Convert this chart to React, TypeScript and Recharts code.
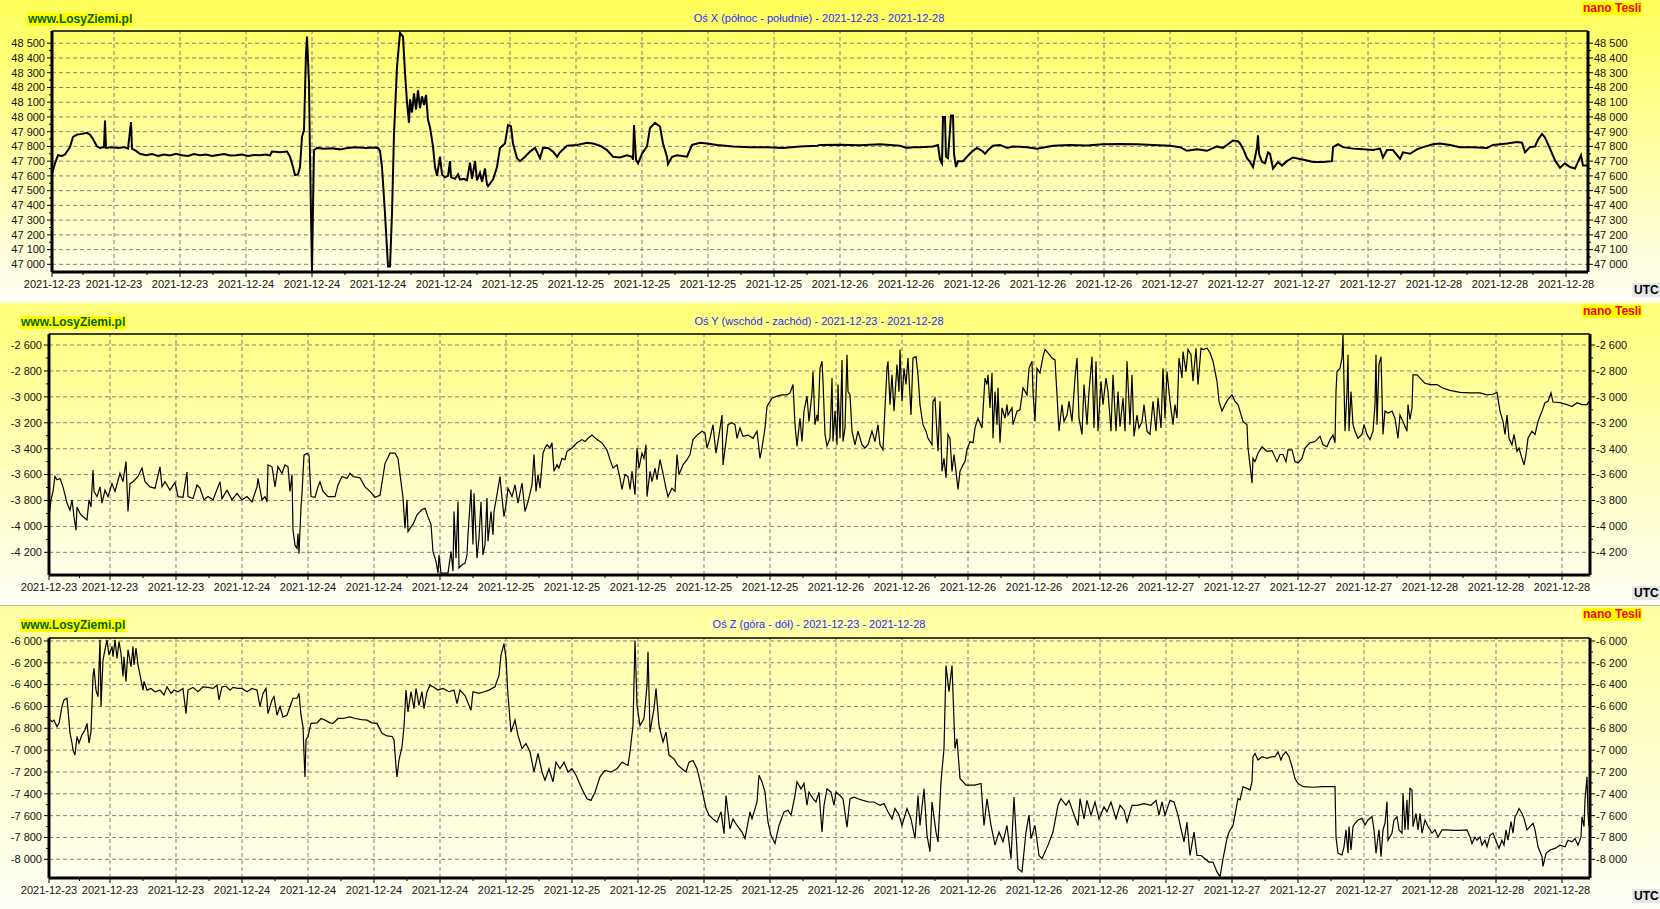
import { FC } from "react";
import { LineChart, Line, XAxis, YAxis, ReferenceLine } from "recharts";

// date labels under the gridlines (first one sits on the left edge)
const dateLabels = [
  "2021-12-23", "2021-12-23", "2021-12-23",
  "2021-12-24", "2021-12-24", "2021-12-24", "2021-12-24",
  "2021-12-25", "2021-12-25", "2021-12-25", "2021-12-25", "2021-12-25",
  "2021-12-26", "2021-12-26", "2021-12-26", "2021-12-26", "2021-12-26",
  "2021-12-27", "2021-12-27", "2021-12-27", "2021-12-27",
  "2021-12-28", "2021-12-28", "2021-12-28",
];

const xAxisTicks = [47000, 47100, 47200, 47300, 47400, 47500, 47600, 47700, 47800, 47900, 48000, 48100, 48200, 48300, 48400, 48500];
const yAxisTicks = [-4200, -4000, -3800, -3600, -3400, -3200, -3000, -2800, -2600];
const zAxisTicks = [-8000, -7800, -7600, -7400, -7200, -7000, -6800, -6600, -6400, -6200, -6000];

// [time step, nT]
const northSouth: [number, number][] = [
  [0, 47615], [3, 47685], [6, 47740], [10, 47735], [13, 47745], [18, 47795], [21, 47865], [25, 47880], [30, 47885], [35, 47892],
  [38, 47880], [41, 47850], [45, 47800], [48, 47790], [52, 47795], [53, 47975], [54, 47790], [60, 47795], [66, 47790], [72, 47795],
  [76, 47785], [79, 47965], [80, 47785], [84, 47770], [88, 47750], [94, 47740], [100, 47748], [106, 47735], [112, 47745], [118, 47738],
  [124, 47750], [130, 47740], [136, 47735], [142, 47748], [148, 47740], [154, 47745], [160, 47735], [166, 47742], [172, 47748], [178, 47738],
  [184, 47740], [190, 47745], [196, 47735], [202, 47742], [208, 47740], [214, 47745], [218, 47738], [220, 47765], [228, 47760], [235, 47765],
  [238, 47730], [241, 47660], [243, 47605], [246, 47610], [248, 47660], [250, 47865], [252, 47910], [254, 48430], [255, 48545], [257, 48230],
  [258, 47730], [260, 46950], [261, 47390], [262, 47775], [265, 47790], [272, 47785], [280, 47788], [288, 47780], [296, 47790], [302, 47795],
  [308, 47792], [314, 47790], [320, 47792], [326, 47790], [328, 47770], [330, 47660], [333, 47345], [336, 46985], [338, 46985], [340, 47345],
  [342, 47885], [345, 48340], [348, 48570], [351, 48545], [353, 48300], [355, 48100], [357, 47960], [358, 48120], [360, 48030], [362, 48160],
  [364, 48050], [366, 48180], [368, 48060], [370, 48140], [372, 48080], [374, 48150], [376, 47980], [378, 47930], [381, 47800], [383, 47660],
  [385, 47600], [388, 47730], [390, 47610], [393, 47590], [396, 47600], [398, 47700], [399, 47590], [403, 47580], [406, 47610], [408, 47575],
  [412, 47580], [415, 47570], [418, 47690], [420, 47580], [423, 47700], [425, 47570], [428, 47620], [430, 47560], [433, 47650], [435, 47540],
  [436, 47530], [441, 47575], [445, 47660], [448, 47790], [453, 47820], [456, 47945], [459, 47935], [461, 47820], [465, 47720], [468, 47700],
  [473, 47730], [478, 47765], [483, 47790], [488, 47720], [491, 47790], [496, 47790], [501, 47765], [505, 47730], [508, 47760], [515, 47805],
  [525, 47810], [535, 47825], [541, 47820], [548, 47805], [555, 47775], [561, 47730], [568, 47725], [575, 47740], [580, 47730], [581, 47710],
  [582, 47945], [584, 47710], [586, 47685], [590, 47750], [595, 47800], [598, 47925], [603, 47960], [608, 47935], [611, 47820], [615, 47730],
  [616, 47680], [620, 47730], [625, 47740], [635, 47730], [640, 47810], [648, 47825], [655, 47820], [665, 47810], [681, 47800], [698, 47795],
  [715, 47795], [731, 47790], [748, 47800], [765, 47805], [768, 47810], [788, 47812], [808, 47808], [828, 47815], [848, 47805], [855, 47790],
  [861, 47795], [868, 47795], [881, 47800], [886, 47810], [888, 47710], [890, 47685], [891, 48000], [893, 48000], [894, 47730], [896, 47720],
  [899, 48010], [901, 48010], [902, 47750], [904, 47660], [906, 47700], [911, 47700], [915, 47730], [920, 47765], [925, 47790], [930, 47770],
  [933, 47750], [936, 47775], [941, 47805], [948, 47810], [955, 47790], [961, 47800], [975, 47795], [985, 47785], [1001, 47805], [1018, 47810],
  [1035, 47807], [1051, 47815], [1068, 47817], [1085, 47815], [1101, 47810], [1118, 47805], [1128, 47795], [1135, 47770], [1145, 47780], [1155, 47770],
  [1165, 47800], [1171, 47790], [1178, 47825], [1181, 47840], [1186, 47835], [1188, 47820], [1191, 47785], [1195, 47720], [1198, 47695], [1201, 47660],
  [1203, 47725], [1205, 47795], [1206, 47875], [1207, 47750], [1210, 47695], [1213, 47685], [1216, 47760], [1218, 47750], [1221, 47650], [1226, 47695],
  [1230, 47670], [1235, 47700], [1241, 47725], [1248, 47715], [1255, 47705], [1261, 47695], [1271, 47695], [1280, 47700], [1281, 47795], [1286, 47815],
  [1291, 47795], [1301, 47785], [1311, 47780], [1321, 47775], [1328, 47785], [1331, 47725], [1335, 47775], [1341, 47775], [1348, 47715], [1351, 47760],
  [1358, 47750], [1365, 47780], [1371, 47795], [1381, 47815], [1388, 47820], [1398, 47810], [1408, 47795], [1421, 47795], [1435, 47790], [1441, 47810],
  [1455, 47820], [1465, 47830], [1470, 47825], [1473, 47760], [1478, 47795], [1483, 47800], [1486, 47845], [1490, 47885], [1493, 47860], [1498, 47785],
  [1503, 47705], [1508, 47655], [1513, 47685], [1518, 47660], [1523, 47650], [1526, 47695], [1529, 47740], [1531, 47670], [1535, 47670],
];

const eastWest: [number, number][] = [
  [0, -3925], [2, -3795], [4, -3730], [6, -3615], [8, -3640], [11, -3630], [14, -3695], [18, -3820], [21, -3875], [23, -3795],
  [25, -3925], [27, -4030], [28, -3850], [31, -3900], [34, -3925], [38, -3950], [40, -3795], [42, -3850], [44, -3565], [45, -3730],
  [48, -3770], [51, -3695], [53, -3820], [56, -3720], [59, -3770], [63, -3670], [66, -3730], [71, -3590], [74, -3655], [77, -3500],
  [79, -3885], [81, -3670], [84, -3655], [89, -3615], [93, -3550], [96, -3655], [101, -3695], [106, -3705], [111, -3540], [113, -3695],
  [116, -3655], [121, -3720], [126, -3660], [129, -3770], [134, -3775], [138, -3580], [139, -3770], [144, -3785], [148, -3680], [151, -3705],
  [155, -3795], [159, -3770], [164, -3795], [171, -3655], [173, -3785], [178, -3720], [183, -3795], [188, -3745], [193, -3795], [198, -3770],
  [203, -3810], [208, -3695], [209, -3630], [213, -3795], [216, -3770], [218, -3810], [219, -3525], [223, -3540], [226, -3695], [229, -3540],
  [233, -3590], [236, -3525], [239, -3540], [241, -3730], [243, -3600], [244, -4030], [246, -4145], [248, -4170], [249, -4055], [250, -4210],
  [252, -3850], [253, -3745], [255, -3450], [258, -3435], [260, -3450], [262, -3770], [266, -3775], [269, -3695], [271, -3655], [274, -3730],
  [279, -3770], [286, -3770], [289, -3680], [293, -3615], [298, -3630], [301, -3590], [304, -3615], [311, -3625], [316, -3695], [321, -3730],
  [326, -3775], [331, -3760], [336, -3515], [341, -3435], [346, -3435], [349, -3475], [354, -3780], [356, -4015], [358, -3795], [359, -4040],
  [361, -4015], [364, -3985], [368, -3910], [373, -3870], [376, -3860], [379, -3925], [382, -3985], [384, -4195], [387, -4270], [389, -4360],
  [390, -4220], [392, -4360], [396, -4360], [399, -4360], [402, -4195], [404, -4345], [405, -3885], [407, -4245], [409, -3810], [410, -4320],
  [413, -4295], [416, -4285], [418, -4220], [419, -4065], [422, -3715], [424, -4140], [425, -3745], [428, -4245], [430, -4090], [432, -3810],
  [434, -4220], [436, -4140], [438, -3780], [439, -4115], [442, -3885], [444, -4065], [445, -3885], [448, -3755], [451, -3615], [453, -3780],
  [455, -3925], [457, -3835], [459, -3705], [463, -3770], [466, -3680], [469, -3820], [473, -3665], [476, -3885], [479, -3810], [483, -3680],
  [485, -3445], [487, -3730], [489, -3600], [491, -3705], [494, -3435], [496, -3395], [498, -3370], [501, -3395], [503, -3355], [505, -3575],
  [508, -3525], [510, -3550], [513, -3475], [516, -3485], [518, -3420], [523, -3395], [528, -3355], [533, -3330], [536, -3345], [539, -3320],
  [543, -3295], [548, -3330], [553, -3355], [558, -3410], [561, -3485], [564, -3550], [568, -3525], [571, -3630], [573, -3715], [576, -3600],
  [579, -3615], [581, -3715], [583, -3575], [586, -3755], [588, -3395], [590, -3550], [593, -3435], [595, -3475], [597, -3370], [598, -3770],
  [601, -3575], [603, -3655], [606, -3550], [608, -3640], [611, -3485], [614, -3590], [617, -3705], [619, -3770], [623, -3705], [626, -3730],
  [628, -3445], [630, -3600], [634, -3525], [638, -3485], [641, -3445], [644, -3330], [648, -3295], [653, -3265], [656, -3280], [658, -3395],
  [661, -3320], [664, -3215], [667, -3435], [670, -3295], [673, -3140], [674, -3525], [677, -3345], [679, -3215], [683, -3200], [686, -3215],
  [688, -3320], [691, -3240], [694, -3305], [699, -3295], [704, -3320], [708, -3265], [711, -3475], [713, -3395], [716, -3240], [718, -3075],
  [723, -3010], [728, -2995], [733, -2985], [738, -2985], [741, -2970], [744, -2905], [746, -3215], [748, -3380], [751, -3165], [753, -3345],
  [755, -3110], [758, -2995], [760, -3190], [763, -2970], [764, -2805], [766, -3215], [768, -3140], [769, -3190], [771, -2780], [773, -2725],
  [774, -2880], [776, -3290], [778, -3380], [781, -3320], [783, -2855], [784, -3345], [786, -3110], [788, -3370], [789, -2905], [791, -3320],
  [793, -2715], [794, -3345], [796, -3240], [798, -2675], [799, -2960], [801, -2985], [803, -3265], [806, -3370], [809, -3265], [813, -3370],
  [816, -3395], [819, -3370], [823, -3265], [826, -3345], [829, -3215], [831, -3370], [834, -3410], [836, -3085], [838, -2780], [839, -2725],
  [841, -3060], [843, -2830], [845, -3110], [848, -2750], [850, -2960], [851, -2635], [853, -3035], [855, -2780], [857, -2905], [859, -2700],
  [862, -3140], [864, -2700], [867, -2690], [869, -2830], [871, -3060], [873, -3165], [874, -3215], [877, -3265], [879, -3320], [883, -3370],
  [884, -3035], [886, -3010], [888, -3290], [889, -3420], [891, -3035], [893, -3575], [895, -3475], [897, -3625], [899, -3290], [901, -3320],
  [903, -3575], [905, -3445], [907, -3575], [909, -3715], [911, -3575], [914, -3525], [916, -3500], [918, -3410], [921, -3345], [924, -3355],
  [926, -3240], [929, -3165], [933, -3240], [934, -3110], [936, -2855], [938, -2905], [939, -2830], [941, -3085], [943, -2815], [944, -3320],
  [946, -2960], [948, -3215], [949, -2930], [951, -3355], [953, -3085], [956, -3165], [958, -3060], [959, -3140], [963, -3085], [964, -3215],
  [968, -3110], [971, -3100], [974, -2930], [978, -2985], [980, -2780], [983, -2725], [984, -2960], [986, -3190], [988, -2780], [991, -2815],
  [994, -2690], [996, -2635], [999, -2660], [1003, -2700], [1006, -2715], [1008, -2985], [1010, -3265], [1013, -3060], [1015, -3190], [1018, -3140],
  [1020, -3035], [1023, -3190], [1026, -2855], [1028, -2700], [1030, -3165], [1033, -3290], [1035, -2905], [1038, -3215], [1040, -2960], [1043, -2690],
  [1045, -3240], [1047, -2725], [1049, -3265], [1052, -2880], [1054, -3060], [1057, -2855], [1059, -2960], [1062, -3265], [1064, -2830], [1067, -3265],
  [1069, -2960], [1071, -3230], [1074, -3010], [1076, -3265], [1078, -2725], [1081, -3215], [1083, -2830], [1085, -3305], [1088, -3140], [1090, -3240],
  [1093, -3190], [1095, -3060], [1098, -3265], [1101, -3290], [1104, -3035], [1107, -3265], [1109, -3010], [1112, -3240], [1114, -2780], [1116, -3165],
  [1118, -2805], [1121, -3035], [1124, -3215], [1126, -3060], [1128, -3165], [1130, -2700], [1133, -2855], [1134, -2650], [1137, -2805], [1139, -2635],
  [1142, -2675], [1144, -2880], [1147, -2625], [1149, -2905], [1152, -2625], [1154, -2635], [1158, -2625], [1161, -2660], [1164, -2725], [1168, -2880],
  [1170, -3035], [1173, -3110], [1176, -3060], [1179, -3020], [1183, -2985], [1186, -3035], [1189, -3060], [1194, -3190], [1198, -3215], [1199, -3395],
  [1201, -3525], [1203, -3665], [1204, -3475], [1206, -3500], [1209, -3435], [1213, -3385], [1218, -3420], [1223, -3415], [1228, -3500], [1231, -3445],
  [1234, -3445], [1237, -3500], [1239, -3410], [1243, -3410], [1246, -3500], [1249, -3510], [1253, -3475], [1256, -3395], [1261, -3355], [1266, -3345],
  [1271, -3305], [1274, -3370], [1278, -3385], [1281, -3330], [1284, -3295], [1286, -3355], [1287, -2960], [1288, -2805], [1291, -2780], [1293, -2700],
  [1294, -2520], [1296, -3265], [1298, -2960], [1299, -2675], [1300, -3265], [1302, -2960], [1304, -3215], [1306, -3265], [1309, -3320], [1313, -3290],
  [1315, -3215], [1318, -3290], [1321, -3330], [1324, -3265], [1326, -3060], [1327, -2675], [1328, -3215], [1330, -2750], [1332, -2690], [1334, -3290],
  [1336, -3110], [1339, -3125], [1343, -3110], [1346, -3165], [1349, -3320], [1351, -3140], [1354, -3190], [1358, -3265], [1359, -3060], [1361, -3175],
  [1363, -3085], [1364, -2830], [1368, -2830], [1371, -2855], [1376, -2895], [1381, -2905], [1388, -2905], [1393, -2930], [1401, -2950], [1411, -2965],
  [1421, -2970], [1431, -2970], [1438, -2985], [1444, -2980], [1448, -2965], [1451, -3110], [1454, -3190], [1456, -3290], [1458, -3140], [1460, -3320],
  [1463, -3370], [1465, -3290], [1468, -3420], [1470, -3395], [1473, -3475], [1475, -3525], [1477, -3445], [1479, -3320], [1483, -3265], [1486, -3290],
  [1489, -3190], [1493, -3110], [1496, -3045], [1499, -3035], [1502, -2970], [1504, -3040], [1511, -3045], [1518, -3060], [1523, -3075], [1528, -3045],
  [1533, -3060], [1538, -3060], [1540, -3035],
];

const upDown: [number, number][] = [
  [0, -6710], [3, -6740], [5, -6725], [8, -6785], [10, -6755], [13, -6600], [15, -6540], [18, -6525], [19, -6630], [21, -6845],
  [23, -6935], [24, -7000], [26, -7045], [28, -6875], [30, -6935], [33, -6860], [36, -6815], [38, -6755], [40, -6935], [42, -6830],
  [44, -6325], [45, -6250], [47, -6450], [49, -6510], [51, -5990], [52, -6600], [54, -6175], [56, -6080], [58, -5990], [60, -6130],
  [63, -6050], [64, -6145], [66, -5990], [68, -6160], [70, -6005], [72, -6115], [74, -6325], [75, -6145], [77, -6370], [79, -6080],
  [82, -6235], [84, -6050], [85, -6220], [87, -6065], [89, -6220], [91, -6310], [94, -6450], [95, -6370], [98, -6450], [102, -6435],
  [106, -6465], [111, -6450], [115, -6495], [118, -6420], [122, -6480], [125, -6450], [129, -6465], [134, -6435], [137, -6665], [139, -6450],
  [144, -6425], [149, -6465], [154, -6420], [159, -6425], [164, -6435], [168, -6405], [170, -6540], [173, -6420], [177, -6415], [181, -6450],
  [184, -6425], [189, -6435], [193, -6435], [198, -6465], [203, -6435], [208, -6450], [211, -6600], [214, -6480], [217, -6435], [219, -6665],
  [223, -6540], [225, -6510], [228, -6680], [231, -6600], [234, -6695], [238, -6680], [241, -6600], [244, -6525], [248, -6525], [250, -6480],
  [252, -6680], [254, -6785], [255, -7030], [256, -7245], [257, -6905], [259, -6875], [262, -6755], [268, -6750], [272, -6710], [276, -6725],
  [281, -6750], [284, -6755], [289, -6710], [294, -6710], [301, -6695], [306, -6710], [313, -6720], [318, -6725], [323, -6750], [328, -6755],
  [333, -6845], [338, -6870], [343, -6875], [345, -6905], [347, -7150], [348, -7245], [350, -7090], [353, -6970], [355, -6785], [357, -6450],
  [359, -6650], [362, -6465], [365, -6620], [367, -6435], [370, -6590], [373, -6465], [375, -6620], [378, -6465], [381, -6405], [384, -6420],
  [389, -6450], [394, -6435], [400, -6465], [405, -6450], [408, -6575], [411, -6450], [416, -6500], [422, -6635], [424, -6465], [430, -6480],
  [435, -6465], [440, -6450], [446, -6420], [450, -6315], [452, -6130], [455, -6025], [457, -6160], [459, -6500], [462, -6835], [466, -6725],
  [469, -6865], [473, -6985], [477, -6940], [481, -7015], [485, -7200], [489, -7030], [493, -7200], [496, -7275], [500, -7170], [504, -7290],
  [507, -7110], [511, -7170], [515, -7110], [519, -7200], [523, -7170], [527, -7230], [533, -7355], [538, -7445], [542, -7460], [546, -7385],
  [551, -7245], [556, -7185], [562, -7200], [568, -7170], [573, -7110], [579, -7140], [581, -7015], [584, -6775], [586, -5995], [588, -6590],
  [591, -6775], [595, -6710], [598, -6405], [599, -6100], [601, -6835], [605, -6620], [607, -6435], [610, -6775], [614, -6925], [617, -6835],
  [620, -7045], [625, -7080], [629, -7140], [633, -7170], [637, -7200], [640, -7110], [644, -7095], [648, -7170], [652, -7320], [657, -7535],
  [660, -7595], [664, -7630], [668, -7660], [672, -7565], [675, -7765], [677, -7415], [681, -7720], [684, -7630], [688, -7690], [693, -7750],
  [696, -7810], [701, -7565], [703, -7630], [708, -7475], [710, -7230], [713, -7290], [716, -7385], [719, -7660], [722, -7780], [726, -7855],
  [730, -7690], [735, -7565], [739, -7550], [742, -7595], [746, -7415], [748, -7290], [752, -7355], [755, -7305], [758, -7505], [760, -7385],
  [764, -7445], [767, -7475], [770, -7385], [773, -7750], [775, -7505], [778, -7355], [782, -7385], [785, -7505], [787, -7385], [791, -7415],
  [794, -7445], [798, -7705], [801, -7445], [805, -7430], [809, -7445], [814, -7460], [820, -7475], [825, -7475], [831, -7505], [835, -7490],
  [839, -7565], [843, -7630], [846, -7535], [850, -7595], [853, -7690], [858, -7535], [862, -7630], [866, -7810], [869, -7415], [871, -7690],
  [875, -7355], [878, -7780], [881, -7930], [883, -7475], [887, -7750], [889, -7840], [892, -7290], [895, -6985], [897, -6225], [900, -6465],
  [903, -6225], [906, -6985], [908, -6895], [911, -7260], [917, -7320], [926, -7320], [932, -7305], [935, -7690], [938, -7445], [942, -7690],
  [946, -7870], [950, -7750], [954, -7840], [958, -7690], [962, -7995], [965, -7430], [969, -8085], [973, -8115], [977, -7750], [980, -7595],
  [982, -7810], [986, -7690], [990, -7965], [993, -7995], [999, -7870], [1004, -7750], [1009, -7505], [1012, -7445], [1017, -7505], [1020, -7460],
  [1024, -7565], [1029, -7690], [1031, -7445], [1035, -7630], [1038, -7460], [1042, -7595], [1046, -7475], [1050, -7630], [1055, -7520], [1058, -7565],
  [1062, -7475], [1067, -7630], [1071, -7505], [1075, -7550], [1078, -7660], [1083, -7505], [1088, -7505], [1095, -7490], [1102, -7505], [1107, -7460],
  [1110, -7595], [1113, -7475], [1116, -7595], [1121, -7460], [1125, -7475], [1129, -7595], [1132, -7720], [1135, -7840], [1138, -7660], [1141, -7965],
  [1145, -7750], [1148, -7965], [1152, -7965], [1156, -7995], [1160, -8025], [1164, -8025], [1168, -8115], [1171, -8160], [1174, -7995], [1178, -7810],
  [1180, -7750], [1184, -7690], [1189, -7445], [1191, -7455], [1194, -7335], [1198, -7350], [1201, -7365], [1203, -7290], [1204, -7060], [1206, -7030],
  [1209, -7090], [1213, -7060], [1218, -7075], [1223, -7060], [1226, -7060], [1229, -7015], [1232, -7090], [1234, -7045], [1237, -7015], [1240, -7060],
  [1243, -7150], [1246, -7260], [1249, -7305], [1254, -7335], [1264, -7340], [1274, -7335], [1286, -7335], [1287, -7795], [1289, -7945], [1293, -7960],
  [1295, -7885], [1297, -7730], [1299, -7945], [1300, -7700], [1302, -7915], [1304, -7700], [1306, -7670], [1309, -7640], [1313, -7625], [1316, -7685],
  [1319, -7640], [1323, -7610], [1325, -7730], [1327, -7945], [1329, -7795], [1330, -7730], [1332, -7975], [1334, -7730], [1336, -7670], [1338, -7470],
  [1339, -7825], [1343, -7760], [1345, -7640], [1348, -7610], [1350, -7730], [1353, -7760], [1354, -7395], [1356, -7730], [1358, -7455], [1359, -7730],
  [1361, -7350], [1363, -7365], [1364, -7700], [1367, -7580], [1369, -7730], [1371, -7580], [1373, -7760], [1376, -7640], [1379, -7700], [1383, -7760],
  [1386, -7730], [1389, -7795], [1393, -7730], [1398, -7730], [1404, -7735], [1411, -7735], [1418, -7730], [1421, -7795], [1423, -7855], [1426, -7795],
  [1428, -7825], [1431, -7795], [1433, -7870], [1436, -7825], [1438, -7885], [1441, -7780], [1444, -7760], [1448, -7855], [1450, -7900], [1453, -7825],
  [1455, -7870], [1457, -7730], [1459, -7825], [1462, -7655], [1464, -7760], [1466, -7610], [1468, -7580], [1470, -7535], [1473, -7580], [1475, -7625],
  [1478, -7730], [1481, -7700], [1484, -7670], [1486, -7730], [1489, -7885], [1493, -7975], [1494, -8065], [1497, -7945], [1501, -7915], [1506, -7900],
  [1511, -7870], [1516, -7885], [1519, -7825], [1523, -7840], [1526, -7810], [1529, -7870], [1532, -7795], [1533, -7610], [1535, -7700], [1536, -7455],
  [1538, -7245], [1539, -7580], [1540, -7700],
];

const FONT = "Arial, 'Liberation Sans', sans-serif";
const GRID_STEP = 66;

const fmt = (v: number) => {
  const a = Math.abs(v);
  const s = Math.floor(a / 1000) + " " + String(a % 1000).padStart(3, "0");
  return v < 0 ? "-" + s : s;
};

interface PanelProps {
  title: string;
  series: [number, number][];
  ticks: number[];
  domain: [number, number];
  left: number;
  right: number;
  top: number;
  firstGrid: number;
  lineWidth: number;
  brandLeft: number;
  background: string;
}

const Panel: FC<PanelProps> = (p) => {
  const H = 303;
  const plotBottom = 272;
  const span = p.right - p.left;
  const data = p.series.map(([t, v]) => ({ t, v }));

  const major = dateLabels.map((_, i) => (i === 0 ? 0 : p.firstGrid + (i - 1) * GRID_STEP));
  const minor = major.slice(0, -1).map((m, i) => (m + major[i + 1]) / 2);
  const yMinor = p.ticks.slice(0, -1).map((v, i) => (v + p.ticks[i + 1]) / 2);

  const leftTick = (props: any) => {
    const { y, payload } = props;
    const isMajor = p.ticks.includes(payload.value);
    return (
      <g>
        <line x1={p.left - (isMajor ? 5 : 3)} x2={p.left} y1={y} y2={y} stroke="#000" />
        {isMajor && (
          <text x={p.left - 7} y={y} dy="0.35em" textAnchor="end" fontSize={11} fontFamily={FONT} fill="#111">
            {fmt(payload.value)}
          </text>
        )}
      </g>
    );
  };

  const rightTick = (props: any) => {
    const { y, payload } = props;
    const isMajor = p.ticks.includes(payload.value);
    return (
      <g>
        <line x1={p.right} x2={p.right + (isMajor ? 5 : 3)} y1={y} y2={y} stroke="#000" />
        {isMajor && (
          <text x={p.right + 6} y={y} dy="0.35em" textAnchor="start" fontSize={11} fontFamily={FONT} fill="#111">
            {fmt(payload.value)}
          </text>
        )}
      </g>
    );
  };

  const bottomTick = (props: any) => {
    const { x, payload } = props;
    const idx = major.indexOf(payload.value);
    return (
      <g>
        <line x1={x} x2={x} y1={plotBottom} y2={plotBottom + (idx >= 0 ? 5 : 3)} stroke="#000" />
        {idx >= 0 && (
          <text x={x} y={plotBottom + 8} dy="0.71em" textAnchor="middle" fontSize={11} fontFamily={FONT} fill="#111">
            {dateLabels[idx]}
          </text>
        )}
      </g>
    );
  };

  return (
    <div style={{ position: "relative", width: 1660, height: H, background: p.background }}>
      <LineChart
        width={1660}
        height={H}
        data={data}
        margin={{ top: p.top, right: 1660 - p.right - 60, bottom: H - plotBottom - 20, left: p.left - 44 }}
      >
        <XAxis
          dataKey="t"
          type="number"
          domain={[0, span]}
          ticks={[...major, ...minor].sort((a, b) => a - b)}
          interval={0}
          tick={bottomTick}
          tickLine={false}
          axisLine={{ stroke: "#000", strokeWidth: 3 }}
          height={20}
          allowDataOverflow
        />
        <YAxis
          yAxisId="l"
          type="number"
          domain={p.domain}
          ticks={[...p.ticks, ...yMinor].sort((a, b) => a - b)}
          interval={0}
          tick={leftTick}
          tickLine={false}
          axisLine={{ stroke: "#000", strokeWidth: 3 }}
          width={44}
          allowDataOverflow
        />
        <YAxis
          yAxisId="r"
          orientation="right"
          type="number"
          domain={p.domain}
          ticks={[...p.ticks, ...yMinor].sort((a, b) => a - b)}
          interval={0}
          tick={rightTick}
          tickLine={false}
          axisLine={{ stroke: "#000", strokeWidth: 3 }}
          width={60}
          allowDataOverflow
        />
        {major.slice(1).map((m) => (
          <ReferenceLine key={"gx" + m} yAxisId="l" x={m} stroke="#808080" strokeDasharray="4 3" />
        ))}
        {p.ticks.map((v) => (
          <ReferenceLine key={"gy" + v} yAxisId="l" y={v} stroke="#808080" strokeDasharray="4 3" />
        ))}
        <ReferenceLine yAxisId="l" y={p.domain[1]} stroke="#000" strokeWidth={1.5} />
        <Line
          yAxisId="l"
          type="linear"
          dataKey="v"
          stroke="#000"
          strokeWidth={p.lineWidth}
          dot={false}
          isAnimationActive={false}
        />
      </LineChart>

      <div
        style={{
          position: "absolute", left: p.brandLeft, top: 13, background: "#ffff00", color: "#006400",
          fontFamily: FONT, fontWeight: "bold", fontSize: 12, lineHeight: "13px", padding: "0 1px",
        }}
      >
        www.LosyZiemi.pl
      </div>
      <div
        style={{
          position: "absolute", left: 519, width: 600, top: 12, textAlign: "center", color: "#2b2bff",
          fontFamily: FONT, fontSize: 11, lineHeight: "13px",
        }}
      >
        {p.title}
      </div>
      <div
        style={{
          position: "absolute", left: 1582, top: 2, background: "#ffff00", color: "#ff0000",
          fontFamily: FONT, fontWeight: "bold", fontSize: 12, lineHeight: "13px", padding: "0 1px",
        }}
      >
        nano Tesli
      </div>
      <div
        style={{
          position: "absolute", left: 1632, top: 283, background: "#e6e6e6", color: "#000",
          fontFamily: FONT, fontWeight: "bold", fontSize: 12, lineHeight: "14px", padding: "0 2px",
        }}
      >
        UTC
      </div>
    </div>
  );
};

const App: FC = () => {
  return (
    <div style={{ position: "absolute", left: 0, top: 0, width: 1660, height: 909, background: "#fff", overflow: "hidden" }}>
      <Panel
        title="Oś X (północ - południe) - 2021-12-23 - 2021-12-28"
        series={northSouth}
        ticks={xAxisTicks}
        domain={[46948, 48583]}
        left={52}
        right={1588}
        top={31}
        firstGrid={62}
        lineWidth={2}
        brandLeft={27}
        background="linear-gradient(#ffff58, #fffff4)"
      />
      <Panel
        title="Oś Y (wschód - zachód) - 2021-12-23 - 2021-12-28"
        series={eastWest}
        ticks={yAxisTicks}
        domain={[-4375, -2515]}
        left={49}
        right={1590}
        top={31}
        firstGrid={61}
        lineWidth={1.2}
        brandLeft={20}
        background="linear-gradient(#ffff78, #fffff6)"
      />
      <div style={{ position: "absolute", left: 0, top: 605, width: 1660, height: 1, background: "#b8b8b8" }} />
      <Panel
        title="Oś Z (góra - dół) - 2021-12-23 - 2021-12-28"
        series={upDown}
        ticks={zAxisTicks}
        domain={[-8171, -5973]}
        left={49}
        right={1590}
        top={32}
        firstGrid={61}
        lineWidth={1.2}
        brandLeft={20}
        background="linear-gradient(#ffffa0, #fffff8)"
      />
    </div>
  );
};

export default App;
